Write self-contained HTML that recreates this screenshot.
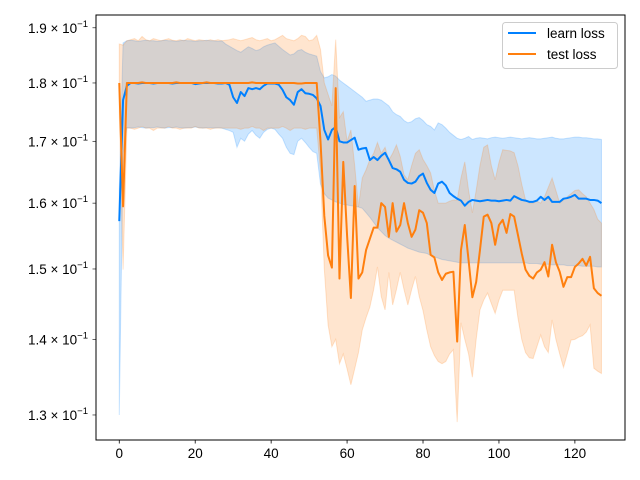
<!DOCTYPE html>
<html><head><meta charset="utf-8"><style>
html,body{margin:0;padding:0;background:#fff;}
svg{display:block;font-family:"Liberation Sans","DejaVu Sans",sans-serif;}
</style></head><body>
<svg id="chart" width="640" height="480" viewBox="0 0 640 480" xmlns="http://www.w3.org/2000/svg">
<rect x="0" y="0" width="640" height="480" fill="#fff"/>
<g id="bands"></g>
<g id="lines"></g>
<rect x="96" y="15" width="529" height="425" fill="none" stroke="#000" stroke-width="1"/>
<g id="xaxis"></g>
<g id="yaxis"></g>
<g>
<rect x="502.5" y="22.5" width="115" height="46" rx="3" fill="#fff" fill-opacity="0.8" stroke="#ccc"/>
<line x1="508" y1="33" x2="536" y2="33" stroke="#0080ff" stroke-width="2"/>
<text x="547" y="38" font-size="13.5" fill="#000">learn loss</text>
<line x1="508" y1="54" x2="536" y2="54" stroke="#ff7f0e" stroke-width="2"/>
<text x="547" y="59" font-size="13.5" fill="#000">test loss</text>
</g>
</svg>
<script>
// values in units of 10^-1
const learnMean=[1.572,1.770,1.795,
1.800,1.800,1.799,1.800,1.800,1.800,1.799,1.800,1.800,1.800,1.800,1.799,1.800,1.800,1.800,1.800,1.800,1.798,1.799,1.800,1.800,1.800,1.800,1.799,1.799,1.800,
1.797,1.775,1.765,1.784,1.777,1.791,1.789,1.791,1.789,1.795,1.799,1.799,1.799,1.797,1.788,1.775,1.770,1.762,1.784,1.789,1.782,1.781,1.779,1.773,1.760,
1.719,1.703,1.719,1.724,1.700,1.698,1.698,1.702,1.706,1.686,
1.688,1.689,1.669,1.674,1.669,1.676,1.681,1.669,1.656,1.654,
1.650,1.637,1.632,1.631,1.634,1.643,1.647,1.632,1.621,1.616,
1.631,1.634,1.628,1.616,1.611,1.607,1.604,1.596,1.602,1.605,
1.604,1.603,1.604,1.605,1.604,1.604,1.603,1.604,1.605,1.604,
1.611,1.608,1.605,1.604,1.602,1.602,1.604,1.610,1.605,1.610,
1.602,1.602,1.602,1.607,1.608,1.610,1.613,1.607,1.607,1.607,
1.605,1.605,1.604,1.600];
const learnUpper=[1.62,1.872,
1.876,1.877,1.876,1.875,1.876,1.877,1.876,1.876,1.875,1.876,1.877,1.876,1.876,1.875,1.876,1.877,1.876,1.876,1.875,1.876,1.876,1.877,1.876,1.876,1.875,1.876,1.870,1.866,
1.862,1.858,1.855,1.860,1.865,1.862,1.858,1.860,1.865,1.868,1.870,1.872,1.866,1.860,1.855,1.850,1.852,1.858,1.860,1.855,1.852,1.850,1.848,
1.82,1.809,1.811,1.815,1.812,1.805,1.800,1.795,1.790,1.785,1.780,
1.775,1.768,1.770,1.772,1.772,1.770,1.765,1.760,1.750,1.745,
1.742,1.735,1.731,1.733,1.738,1.740,1.735,1.728,1.725,1.719,
1.731,1.728,1.722,1.715,1.710,1.705,1.703,1.705,1.708,1.703,
1.705,1.706,1.705,1.704,1.706,1.707,1.706,1.705,1.706,1.707,1.706,1.705,1.704,1.705,1.706,1.705,1.704,1.704,1.705,1.706,1.707,1.705,1.704,1.704,1.705,1.706,1.707,1.707,1.706,1.706,1.705,1.704,1.704,1.703];
const learnLower=[1.30,1.68,
1.723,1.722,1.723,1.724,1.723,1.722,1.723,1.723,1.724,1.723,1.722,1.723,1.723,1.724,1.723,1.722,1.723,1.723,1.724,1.723,1.722,1.723,1.723,1.722,1.723,1.722,1.720,1.718,
1.715,1.690,1.705,1.700,1.712,1.718,1.710,1.705,1.715,1.720,1.722,1.720,1.712,1.705,1.690,1.680,1.678,1.700,1.705,1.698,1.690,1.683,1.680,
1.63,1.615,1.608,1.605,1.602,1.600,1.598,1.597,1.596,1.595,1.594,
1.592,1.585,1.578,1.570,1.562,1.556,1.550,1.546,1.543,1.540,
1.537,1.534,1.531,1.529,1.527,1.525,1.524,1.523,1.520,1.518,
1.516,1.514,1.513,1.512,1.511,1.510,1.509,1.509,1.509,1.509,
1.509,1.509,1.509,1.509,1.509,1.509,1.509,1.509,1.509,1.509,1.509,1.509,1.509,1.509,1.508,1.508,1.508,1.507,1.507,1.507,1.506,1.506,1.506,1.506,1.505,1.505,1.505,1.505,1.504,1.504,1.504,1.504,1.503,1.503];
const testMean=[1.800,1.595,
1.800,1.800,1.800,1.800,1.801,1.800,1.800,1.800,1.800,1.800,1.800,1.800,1.800,1.801,1.800,1.800,1.800,1.800,1.800,1.800,1.800,1.801,1.800,1.800,1.800,1.800,1.800,1.800,
1.800,1.800,1.800,1.800,1.800,1.801,1.800,1.800,1.800,1.800,1.800,1.800,1.800,1.800,1.800,1.800,1.800,1.799,1.799,1.800,1.800,1.800,1.800,
1.70,1.58,1.52,1.502,1.791,1.486,1.666,1.55,1.458,1.627,1.486,
1.495,1.528,1.545,1.562,1.562,1.600,1.594,1.548,1.600,1.556,
1.566,1.600,1.569,1.548,1.559,1.589,1.585,1.569,1.521,1.517,
1.495,1.484,1.493,1.495,1.496,1.397,1.528,1.566,1.513,1.459,
1.481,1.528,1.579,1.582,1.569,1.536,1.566,1.574,1.554,1.583,
1.579,1.551,1.523,1.499,1.490,1.486,1.495,1.499,1.510,1.489,
1.536,1.510,1.496,1.474,1.488,1.488,1.503,1.508,1.515,1.505,
1.518,1.472,1.465,1.461];
const testUpper=[1.87,1.868,
1.876,1.878,1.880,1.876,1.884,1.878,1.876,1.880,1.878,1.876,1.878,1.880,1.877,1.876,1.878,1.876,1.880,1.878,1.876,1.878,1.877,1.876,1.878,1.876,1.878,1.876,1.877,1.878,
1.880,1.878,1.876,1.878,1.880,1.882,1.878,1.876,1.878,1.880,1.876,1.878,1.882,1.886,1.880,1.878,1.876,1.880,1.886,1.884,1.876,1.878,1.886,
1.86,1.80,1.78,1.76,1.878,1.74,1.750,1.70,1.719,1.66,1.594,
1.64,1.653,1.670,1.680,1.698,1.68,1.690,1.669,1.680,1.694,
1.675,1.645,1.637,1.66,1.680,1.686,1.67,1.660,1.648,1.62,
1.600,1.600,1.600,1.603,1.605,1.605,1.640,1.666,1.62,1.585,
1.62,1.66,1.690,1.694,1.66,1.637,1.665,1.686,1.685,1.684,
1.681,1.66,1.63,1.605,1.60,1.60,1.603,1.600,1.61,1.625,
1.640,1.62,1.600,1.605,1.61,1.615,1.62,1.621,1.615,1.61,
1.60,1.59,1.575,1.569];
const testLower=[1.75,1.499,
1.722,1.722,1.720,1.722,1.725,1.722,1.722,1.718,1.722,1.722,1.722,1.725,1.722,1.722,1.720,1.722,1.722,1.722,1.725,1.722,1.722,1.722,1.720,1.722,1.722,1.722,1.722,1.722,
1.722,1.722,1.720,1.722,1.722,1.725,1.722,1.722,1.718,1.722,1.722,1.722,1.722,1.725,1.722,1.718,1.722,1.722,1.722,1.720,1.722,1.722,1.722,
1.65,1.50,1.42,1.390,1.40,1.367,1.38,1.36,1.339,1.36,1.382,
1.413,1.43,1.445,1.47,1.503,1.46,1.441,1.495,1.448,1.47,
1.495,1.47,1.448,1.47,1.489,1.46,1.44,1.413,1.39,1.378,
1.37,1.367,1.37,1.38,1.386,1.291,1.423,1.40,1.38,1.349,
1.40,1.441,1.455,1.465,1.45,1.436,1.455,1.469,1.469,1.469,
1.469,1.43,1.40,1.382,1.375,1.374,1.39,1.406,1.39,1.382,
1.427,1.40,1.38,1.362,1.38,1.399,1.40,1.403,1.405,1.41,
1.420,1.361,1.357,1.354];
const xTicks=[0,20,40,60,80,100,120];
const yTicks=[1.3,1.4,1.5,1.6,1.7,1.8,1.9];
const yTickLabels=["1.3","1.4","1.5","1.6","1.7","1.8","1.9"];

const X0=96,X1=625,Y0=15,Y1=440,XMIN=-6.13,XMAX=133.2,YMIN=1.2685,YMAX=1.924;
function xs(v){return X0+(v-XMIN)/(XMAX-XMIN)*(X1-X0);}
function ys(v){return Y1-(Math.log(v)-Math.log(YMIN))/(Math.log(YMAX)-Math.log(YMIN))*(Y1-Y0);}
const NS="http://www.w3.org/2000/svg";
function mk(t,a,p){const e=document.createElementNS(NS,t);for(const k in a)e.setAttribute(k,a[k]);p.appendChild(e);return e;}
function bandPath(up,lo){let d="";for(let i=0;i<up.length;i++)d+=(i?"L":"M")+xs(i).toFixed(2)+","+ys(up[i]).toFixed(2);for(let i=lo.length-1;i>=0;i--)d+="L"+xs(i).toFixed(2)+","+ys(lo[i]).toFixed(2);return d+"Z";}
function linePath(m){let d="";for(let i=0;i<m.length;i++)d+=(i?"L":"M")+xs(i).toFixed(2)+","+ys(m[i]).toFixed(2);return d;}
const bands=document.getElementById("bands"),lines=document.getElementById("lines");
const b1=mk("path",{d:bandPath(learnUpper,learnLower),fill:"#0080ff","fill-opacity":"0.2",stroke:"#0080ff","stroke-opacity":"0.2","stroke-width":"1"},bands);


const b2=mk("path",{d:bandPath(testUpper,testLower),fill:"#ff7f0e","fill-opacity":"0.2",stroke:"#ff7f0e","stroke-opacity":"0.2","stroke-width":"1"},bands);


const l1=mk("path",{d:linePath(learnMean),fill:"none",stroke:"#0080ff","stroke-width":"2","stroke-linejoin":"round"},lines);


const l2=mk("path",{d:linePath(testMean),fill:"none",stroke:"#ff7f0e","stroke-width":"2","stroke-linejoin":"round"},lines);


const xa=document.getElementById("xaxis");
xTicks.forEach(t=>{const x=xs(t);
const tk=mk("line",{x1:x,y1:440,x2:x,y2:443.5,stroke:"#000","stroke-width":"0.8"},xa);


const tx=mk("text",{x:x,y:458,"text-anchor":"middle","font-size":"13.5",fill:"#000"},xa);


tx.textContent=String(t);});
const ya=document.getElementById("yaxis");
yTicks.forEach((t,i)=>{const y=ys(t);
const tk=mk("line",{x1:92.5,y1:y,x2:96,y2:y,stroke:"#000","stroke-width":"0.6"},ya);


const tx=mk("text",{x:88,y:y+5,"text-anchor":"end","font-size":"13.5",fill:"#000"},ya);


tx.appendChild(document.createTextNode(yTickLabels[i]+" \u00d7 10"));
const sp=document.createElementNS(NS,"tspan");sp.setAttribute("dy","-6");sp.setAttribute("font-size","9.5");sp.textContent="\u22121";tx.appendChild(sp);});
</script>
</body></html>
